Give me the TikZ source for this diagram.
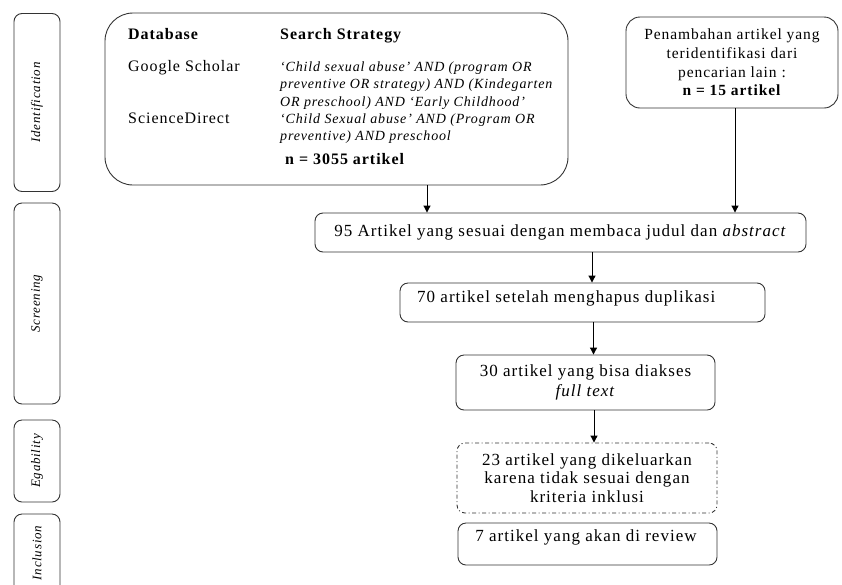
\documentclass[tikz,border=0pt]{standalone}
\usepackage{fontspec}
\setmainfont{Liberation Serif}[LetterSpace=6]
\usetikzlibrary{arrows.meta}
\tikzset{
  box/.style={draw=black!80, line width=0.9pt, rounded corners=8pt, inner sep=0pt, align=center},
  sidebox/.style={box, minimum width=46pt},
  flow/.style={box, font=\fontsize{17}{19}\selectfont},
  side/.style={font=\fontsize{13}{15}\selectfont\itshape, rotate=90},
  arr/.style={line width=1pt, -{Triangle[length=7pt,width=7pt]}},
  lab/.style={anchor=base west, inner sep=0pt, font=\fontsize{16}{18}\selectfont},
  labb/.style={lab, font=\fontsize{16}{18}\selectfont\bfseries},
  it/.style={anchor=base west, inner sep=0pt, font=\fontsize{14}{16}\selectfont\itshape},
}
\begin{document}
\begin{tikzpicture}[x=1pt, y=-1pt]
\useasboundingbox (0,0) rectangle (842,584);
% side boxes
\node[sidebox, minimum height=178pt] (sid) at (37,102.5) {};
\node[side] (sidt) at (sid.center) {Identification};
\node[sidebox, minimum height=201pt] (sscr) at (37,303.5) {};
\node[side] (sscrt) at (sscr.center) {Screening};
\node[sidebox, minimum height=82pt] (sega) at (37,461) {};
\node[side] (segat) at (sega.center) {Egability};
\node[sidebox, minimum height=80pt] (sinc) at (37,554) {};
\node[side] (sinct) at (37,553) {Inclusion};
% main box
\node[box, rounded corners=28pt, minimum width=463pt, minimum height=172pt] (main) at (336.5,99) {};
\node[labb] (dbh) at (128,39) {Database};
\node[labb] (ssh) at (280,39) {Search Strategy};
\node[lab] (gs) at (128,71) {Google Scholar};
\node[it] (q1) at (280,71) {‘Child sexual abuse’ AND (program OR};
\node[it] (q2) at (280,88) {preventive OR strategy) AND (Kindegarten};
\node[it] (q3) at (280,106) {OR preschool) AND ‘Early Childhood’};
\node[lab] (sd) at (128,123) {ScienceDirect};
\node[it] (q4) at (280,123) {‘Child Sexual abuse’ AND (Program OR};
\node[it] (q5) at (280,140) {preventive) AND preschool};
\node[labb] (n1) at (285,164) {n = 3055 artikel};
% right box
\node[box, rounded corners=14pt, minimum width=212pt, minimum height=91pt, font=\fontsize{15.5}{18.7}\selectfont] (extra) at (732,62.5)
  {Penambahan artikel yang\\teridentifikasi dari\\pencarian lain :\\\textbf{n = 15 artikel}};
% flow boxes
\node[flow, minimum width=491pt, minimum height=39pt] (b95) at (560.5,232.5)
  {95 Artikel yang sesuai dengan membaca judul dan \textit{abstract}};
\node[flow, minimum width=365pt, minimum height=39pt] (b70) at (582.5,302.5) {};
\node[anchor=west, inner sep=0pt, font=\fontsize{17}{19}\selectfont] (b70t) at (417,298) {70 artikel setelah menghapus duplikasi};
\node[flow, minimum width=259pt, minimum height=55pt, font=\fontsize{17}{20}\selectfont] (b30) at (585.5,382.5)
  {30 artikel yang bisa diakses\\\textit{full text}};
\node[flow, dash pattern=on 4pt off 2.5pt on 1pt off 2.5pt, minimum width=260pt, minimum height=70pt, font=\fontsize{17}{18.5}\selectfont] (bex) at (587,478)
  {23 artikel yang dikeluarkan\\karena tidak sesuai dengan\\kriteria inklusi};
\node[flow, minimum width=259pt, minimum height=42pt] (b7) at (587.5,544) {};
\node[anchor=center, inner sep=0pt, font=\fontsize{17}{19}\selectfont] (b7t) at (586,537) {7 artikel yang akan di review};
% arrows
\draw[arr] ([xshift=90.5pt]main.south) -- ([xshift=90.5pt]main.south |- b95.north);
\draw[arr] ([xshift=3pt]extra.south) -- ([xshift=3pt]extra.south |- b95.north);
\draw[arr] ([xshift=31.5pt]b95.south) -- ([xshift=31.5pt]b95.south |- b70.north);
\draw[arr] ([xshift=11pt]b70.south) -- ([xshift=11pt]b70.south |- b30.north);
\draw[arr] ([xshift=8.5pt]b30.south) -- ([xshift=8.5pt]b30.south |- bex.north);
\end{tikzpicture}
\end{document}
